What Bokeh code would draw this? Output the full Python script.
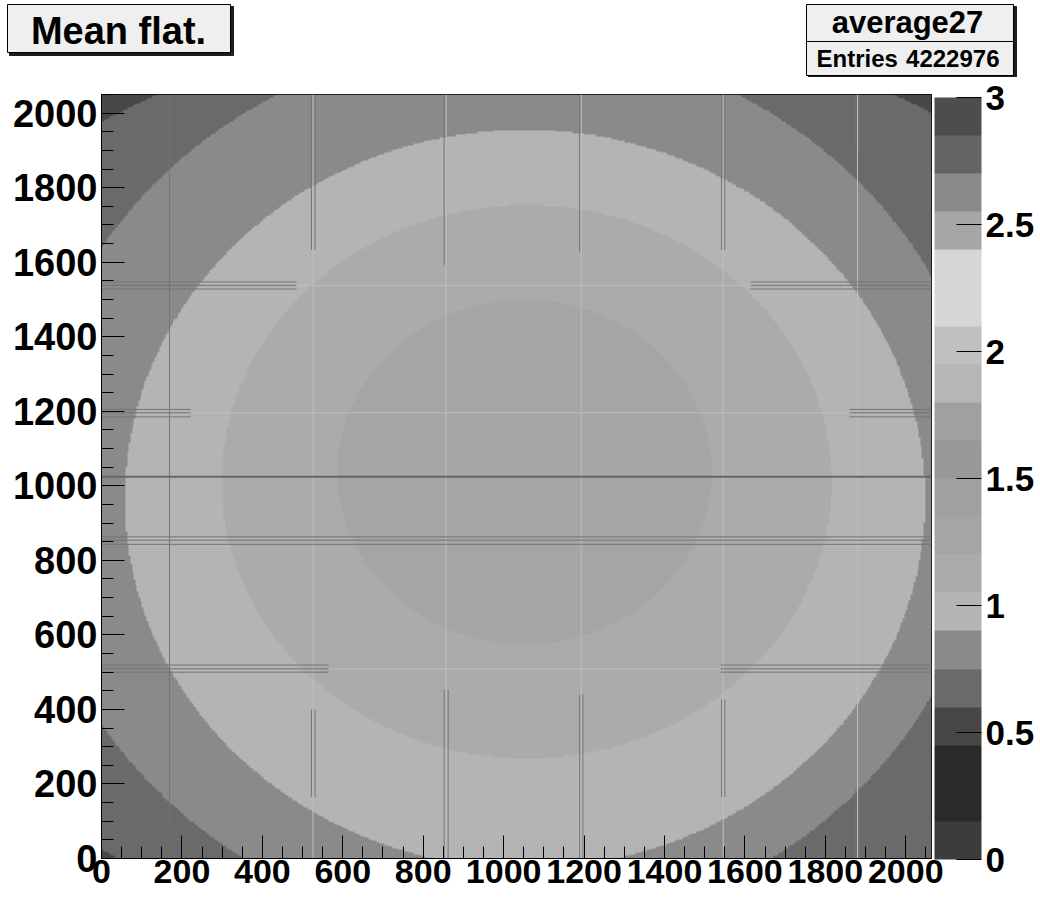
import numpy as np
from bokeh.plotting import figure
from bokeh.layouts import column
from bokeh.models import (LinearColorMapper, ColorBar, FixedTicker, SingleIntervalTicker,
                          ColumnDataSource)
from bokeh.core.properties import value
from bokeh.embed import file_html
from bokeh.resources import INLINE

# ---------------- values ----------------
x_lo, x_hi = 0, 2064
y_lo, y_hi = 0, 2050
z_lo, z_hi = 0.0, 3.0
z_ticks = [0, 0.5, 1, 1.5, 2, 2.5, 3]

# 20-step grey palette of the colour bar, from 0 (bottom) to 3 (top)
palette = ["#3c3c3c", "#2a2a2a", "#2a2a2a", "#474747", "#6a6a6a", "#8a8a8a",
           "#b4b4b4", "#ababab", "#a5a5a5", "#a0a0a0", "#989898", "#a0a0a0",
           "#b6b6b6", "#c0c0c0", "#d6d6d6", "#d6d6d6", "#a6a6a6", "#8a8a8a",
           "#646464", "#4d4d4d"]

# mean-flat level zones, outermost first: centre, half axes, level inside
ring_cx = [1054, 1010, 1053, 1057, 1052]
ring_cy = [1000, 1000, 965, 1011, 1037]
ring_rx = [1685, 1195, 995, 758, 465]
ring_ry = [1250, 1195, 990, 742, 462]
ring_level = [0.68, 0.82, 0.98, 1.12, 1.28]
corner_level = 0.52

# detector column / row features (dark = "d", faint = "f", "D" = strong)
col_x = [169, 522, 531, 522, 531, 852, 852, 862, 1189, 1189, 1197,
         1542, 1550, 1542, 1550, 1876, 1884, 1876, 1884,
         526, 857, 1193, 1546, 1880]
col_y0 = [90, 1633, 1633, 165, 165, 1593, 0, 0, 1626, 0, 0,
          1633, 1633, 165, 165, 1900, 1900, 0, 0,
          0, 0, 0, 0, 0]
col_y1 = [2050, 2050, 2050, 400, 400, 2050, 453, 453, 2050, 440, 440,
          2050, 2050, 427, 427, 2050, 2050, 190, 190,
          2050, 2050, 2050, 2050, 2050]
col_kind = ["d"] * 19 + ["f"] * 5

row_y = [1547, 1538, 1528, 1547, 1538, 1528, 1538,
         1205, 1196, 1185, 1205, 1196, 1185, 1196,
         1024,
         863, 854, 843,
         519, 509, 500, 519, 509, 500, 509]
row_x0 = [0, 0, 0, 1614, 1614, 1614, 485,
          0, 0, 0, 1860, 1860, 1860, 222,
          0,
          0, 0, 0,
          0, 0, 0, 1540, 1540, 1540, 565]
row_x1 = [485, 485, 485, 2064, 2064, 2064, 1614,
          222, 222, 222, 2064, 2064, 2064, 1860,
          2064,
          2064, 2064, 2064,
          565, 565, 565, 2064, 2064, 2064, 1540]
row_kind = ["d", "d", "d", "d", "d", "d", "f",
            "d", "d", "d", "d", "d", "d", "f",
            "D",
            "d", "d", "d",
            "d", "d", "d", "d", "d", "d", "f"]

title_text = "Mean flat."
stats_name = "average27"
stats_label = "Entries"
stats_entries = "4222976"

# ---------------- histogram image built from the zones ----------------
nx, ny = 516, 512
xc = x_lo + (np.arange(nx) + 0.5) * (x_hi - x_lo) / nx
yc = y_lo + (np.arange(ny) + 0.5) * (y_hi - y_lo) / ny
XX, YY = np.meshgrid(xc, yc)
Z = np.full((ny, nx), corner_level, dtype=np.float32)
for cx, cy, rx, ry, lv in zip(ring_cx, ring_cy, ring_rx, ring_ry, ring_level):
    Z[((XX - cx) / rx) ** 2 + ((YY - cy) / ry) ** 2 < 1.0] = lv

FONT = "Liberation Sans"
W = 1040
HDR_H = 77
MAIN_H = 897 - HDR_H
FL, FR = 101, 931                  # frame left / right (px)
FT, FB = 94 - HDR_H, 858 - HDR_H   # frame top / bottom inside main figure

# ---------------- header strip: title box and stats box ----------------
hdr = figure(width=W, height=HDR_H, x_range=(0, W), y_range=(HDR_H, 0),
             output_backend="svg", toolbar_location=None,
             min_border_left=0, min_border_right=0, min_border_top=0, min_border_bottom=0,
             x_axis_type=None, y_axis_type=None)
hdr.frame_align = False
hdr.outline_line_color = None
hdr.grid.visible = False
hdr.background_fill_color = "white"
hdr.border_fill_color = "white"
# shadows
hdr.quad(left=[9, 808], right=[233, 1016], top=[6, 6], bottom=[55, 77],
         fill_color="#1e1e1e", line_color="#1e1e1e")
# boxes
hdr.quad(left=[7, 806, 806], right=[230, 1013, 1013], top=[4, 4, 41], bottom=[52, 41, 75],
         fill_color="#efefef", line_color="#000000", line_width=1)
hdr.text(x=[118], y=[30], text=[title_text], text_font=value(FONT), text_font_style="bold",
         text_font_size="38px", text_align="center", text_baseline="middle",
         text_color="black")
hdr.text(x=[907], y=[22], text=[stats_name], text_font=value(FONT), text_font_style="bold",
         text_font_size="31px", text_align="center", text_baseline="middle",
         text_color="black")
hdr.text(x=[816], y=[58], text=[stats_label], text_font=value(FONT), text_font_style="bold",
         text_font_size="24px", text_align="left", text_baseline="middle",
         text_color="black")
hdr.text(x=[999], y=[58], text=[stats_entries], text_font=value(FONT), text_font_style="bold",
         text_font_size="24px", text_align="right", text_baseline="middle",
         text_color="black")

# ---------------- main histogram ----------------
p = figure(width=W, height=MAIN_H, x_range=(x_lo, x_hi), y_range=(y_lo, y_hi),
           output_backend="svg", toolbar_location=None,
           min_border_left=FL, min_border_top=FT, min_border_right=W - FR,
           min_border_bottom=MAIN_H - FB)
p.frame_align = False
p.background_fill_color = "white"
p.border_fill_color = "white"
p.outline_line_color = "black"
p.outline_line_width = 1
p.outline_line_alpha = 1
p.grid.visible = False

mapper = LinearColorMapper(palette=palette, low=z_lo, high=z_hi)
p.image(image=[Z], x=x_lo, y=y_lo, dw=x_hi - x_lo, dh=y_hi - y_lo, color_mapper=mapper)

shade = {"d": "#747474", "f": "#bebebe", "D": "#666666"}
lw = {"d": 1, "f": 1, "D": 2}
cols = ColumnDataSource(dict(x0=col_x, x1=col_x, y0=col_y0, y1=col_y1,
                             c=[shade[k] for k in col_kind], w=[lw[k] for k in col_kind]))
rows = ColumnDataSource(dict(x0=row_x0, x1=row_x1, y0=row_y, y1=row_y,
                             c=[shade[k] for k in row_kind], w=[lw[k] for k in row_kind]))
p.segment("x0", "y0", "x1", "y1", source=cols, line_color="c", line_width="w")
p.segment("x0", "y0", "x1", "y1", source=rows, line_color="c", line_width="w")

for ax in (p.xaxis[0], p.yaxis[0]):
    ax.ticker = SingleIntervalTicker(interval=200, num_minor_ticks=4)
    ax.axis_line_color = "black"
    ax.major_tick_line_color = "black"
    ax.minor_tick_line_color = "black"
    ax.major_tick_in = 23
    ax.major_tick_out = 0
    ax.minor_tick_in = 12
    ax.minor_tick_out = 0
    ax.major_label_text_font = FONT
    ax.major_label_text_font_style = "bold"
    ax.major_label_text_color = "black"
p.yaxis.major_label_text_font_size = "38px"
p.yaxis.major_label_standoff = 4
p.xaxis.major_label_text_font_size = "34px"
p.xaxis.major_label_standoff = 1

cb = ColorBar(color_mapper=mapper, ticker=FixedTicker(ticks=z_ticks),
              width=47, height=762, margin=0, padding=3,
              label_standoff=4, major_tick_in=25, major_tick_out=0,
              major_tick_line_color="black", minor_tick_line_color=None,
              major_label_text_font=FONT, major_label_text_font_style="bold",
              major_label_text_font_size="35px", major_label_text_color="black",
              bar_line_color=None, border_line_color=None, background_fill_color=None)
p.add_layout(cb, "right")

layout = column(hdr, p, spacing=0)
open("out.html", "w").write(file_html(layout, INLINE))
